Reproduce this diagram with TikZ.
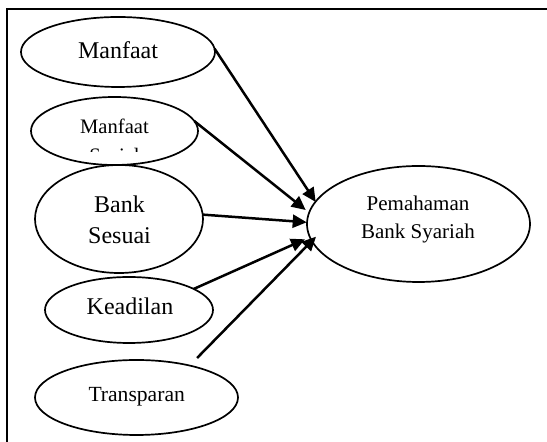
\documentclass[tikz,border=0pt]{standalone}
\usepackage{fontspec}
\setmainfont{Liberation Serif}
\usetikzlibrary{arrows.meta,shapes.geometric}
\begin{document}
\begin{tikzpicture}[x=0.5pt,y=-0.5pt,
  oval/.style={draw,ellipse,line width=0.85pt,inner sep=0pt,outer sep=0pt},
  lbl/.style={inner sep=0pt,outer sep=0pt,align=center},
  arr/.style={line width=1.25pt,-{Triangle[length=7pt,width=6.5pt]}}]
\fill[white] (0,0) rectangle (547,442);
\useasboundingbox (0,0) rectangle (547,442);
\draw[line width=1.2pt,line join=miter] (547,9) -- (7,9) -- (7,442);
% ellipses
\node[oval,minimum width=97pt,minimum height=35pt] (m) at (118,52) {};
\node[oval,minimum width=83.5pt,minimum height=34pt] (ms) at (114.5,131) {};
\node[oval,minimum width=84pt,minimum height=54pt] (bs) at (119,219) {};
\node[oval,minimum width=84pt,minimum height=33pt] (k) at (129,310) {};
\node[oval,minimum width=101.5pt,minimum height=37.5pt] (tr) at (136.5,397.5) {};
\node[oval,minimum width=111.5pt,minimum height=58pt] (p) at (418.5,224) {};
% labels
\node[lbl,anchor=base,font=\fontsize{12}{14}\selectfont] (mt) at (118,59) {Manfaat};
\begin{scope}
\clip (0,0) rectangle (547,152);
\node[lbl,anchor=north,font=\fontsize{10.3}{14.3}\selectfont] (mst) at (114.5,119) {Manfaat\\Sosial};
\end{scope}
\node[lbl,anchor=north,font=\fontsize{12}{15.5}\selectfont] (bst) at (119.5,195.6) {Bank\\Sesuai};
\node[lbl,anchor=base,font=\fontsize{12}{14}\selectfont] (kt) at (130,315) {Keadilan};
\node[lbl,anchor=base,font=\fontsize{10.8}{13}\selectfont] (trt) at (136.7,402) {Transparan};
\node[lbl,anchor=north,font=\fontsize{10.5}{14}\selectfont] (pt) at (418,195.7) {Pemahaman\\Bank Syariah};
% arrow tips
\coordinate (tip1) at (315.7,202);
\coordinate (tip2) at (305.7,210);
\coordinate (tip3) at (306.7,222.3);
\coordinate (tip4) at (305,239.3);
\coordinate (tip5) at (316,236.7);
\draw[arr] (m.2.4) -- (tip1);
\draw[arr] (ms.7) -- (tip2);
\draw[arr] (bs.3.9) -- (tip3);
\draw[arr] (k.18.4) -- (tip4);
\draw[arr,shorten <=5.3pt] (tr.31.1) -- (tip5);
\end{tikzpicture}
\end{document}
